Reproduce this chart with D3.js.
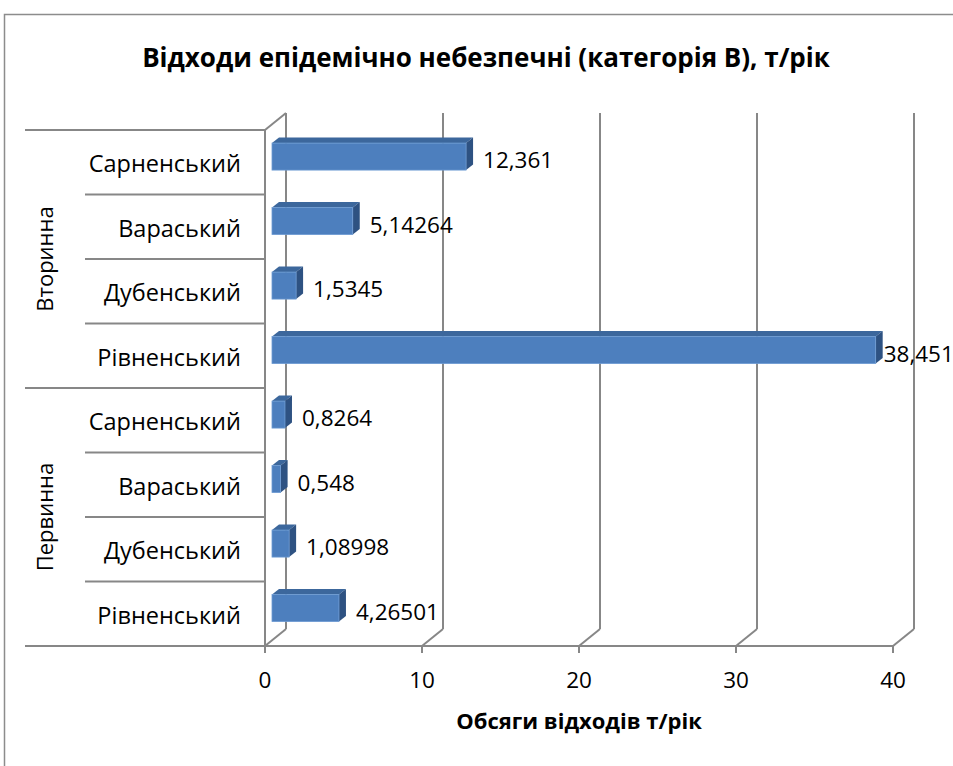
<!DOCTYPE html>
<html>
<head>
<meta charset="utf-8">
<script src="https://cdnjs.cloudflare.com/ajax/libs/d3/7.8.5/d3.min.js"></script>
<style>
    body { margin: 0; background: #ffffff; overflow: hidden; }
    svg { display: block; font-family: "Open Sans", sans-serif; }
</style>
</head>
<body>
<div id="chartcontainer"></div>
<script>
// districts listed bottom to top inside each group
var districts = ["Рівненський", "Дубенський", "Вараський", "Сарненський"];
var groups = ["Первинна", "Вторинна"];
var primaryValues = [4.26501, 1.08998, 0.548, 0.8264];
var secondaryValues = [38.451, 1.5345, 5.14264, 12.361];
var xTicks = [0, 10, 20, 30, 40];

var chartTitle = "Відходи епідемічно небезпечні (категорія В), т/рік";
var axisTitle = "Обсяги відходів т/рік";

var width = 953, height = 766;
var plotLeft = 265, plotRight = 893, plotTop = 130, plotBottom = 646;
// depth of the 3d box
var depthX = 21, depthY = -17;
var gridColor = "#878787";
var labelSize = "22.5px";

// rows from the bottom up
var rows = [];
groups.forEach(function(g, gi) {
    var vals = gi === 0 ? primaryValues : secondaryValues;
    districts.forEach(function(d, i) {
        rows.push({ id: g + "-" + d, group: g, district: d, value: vals[i], first: i === 0 });
    });
});

var svg = d3.select("#chartcontainer").append("svg")
    .attr("width", width)
    .attr("height", height);

var x = d3.scaleLinear()
    .domain([0, 40])
    .range([plotLeft, plotRight]);

var y = d3.scaleBand()
    .domain(rows.map(function(d) { return d.id; }))
    .range([plotBottom, plotTop]);

// chart border (runs off the right and bottom edges)
svg.append("path")
    .attr("d", "M4.5," + height + "V14.5H" + width)
    .style("fill", "none")
    .style("stroke", "#8c8c8c")
    .style("stroke-width", 1.5);

svg.append("text")
    .attr("x", 486)
    .attr("y", 67)
    .attr("text-anchor", "middle")
    .style("font-size", "26px")
    .style("font-weight", "bold")
    .text(chartTitle);

// back wall gridlines + floor diagonals + ticks
var grid = svg.append("g");
xTicks.forEach(function(t) {
    grid.append("line")
        .attr("x1", x(t) + depthX).attr("x2", x(t) + depthX)
        .attr("y1", plotTop + depthY).attr("y2", plotBottom + depthY);
    grid.append("line")
        .attr("x1", x(t)).attr("x2", x(t) + depthX)
        .attr("y1", plotBottom).attr("y2", plotBottom + depthY);
    grid.append("line")
        .attr("x1", x(t)).attr("x2", x(t))
        .attr("y1", plotBottom).attr("y2", plotBottom + 7);
});

// left wall front edge and top diagonal
grid.append("line")
    .attr("x1", plotLeft).attr("x2", plotLeft)
    .attr("y1", plotTop).attr("y2", plotBottom);
grid.append("line")
    .attr("x1", plotLeft).attr("x2", plotLeft + depthX)
    .attr("y1", plotTop).attr("y2", plotTop + depthY);
// floor front edge
grid.append("line")
    .attr("x1", 25).attr("x2", plotRight)
    .attr("y1", plotBottom).attr("y2", plotBottom);

// category separators, long ones between groups
rows.forEach(function(d) {
    grid.append("line")
        .attr("x1", d.first ? 25 : 85).attr("x2", plotLeft)
        .attr("y1", y(d.id) + y.bandwidth()).attr("y2", y(d.id) + y.bandwidth());
});
grid.append("line")
    .attr("x1", 25).attr("x2", plotLeft)
    .attr("y1", plotTop).attr("y2", plotTop);

grid.selectAll("line")
    .style("stroke", gridColor)
    .style("stroke-width", 2);

// category labels
svg.selectAll("text.cat")
    .data(rows)
    .enter().append("text")
    .attr("class", "cat")
    .attr("x", 241)
    .attr("y", function(d) { return y(d.id) + y.bandwidth() / 2 + 10; })
    .attr("text-anchor", "end")
    .style("font-size", "23.5px")
    .text(function(d) { return d.district; });

// group labels
groups.forEach(function(g, gi) {
    var ids = rows.filter(function(d) { return d.group === g; });
    var top = y(ids[ids.length - 1].id), bottom = y(ids[0].id) + y.bandwidth();
    svg.append("text")
        .attr("transform", "translate(53," + ((top + bottom) / 2) + ") rotate(-90)")
        .attr("text-anchor", "middle")
        .style("font-size", "22px")
        .text(g);
});

// 3d bars
var f0 = 1 / 3, f1 = 2 / 3, barH = 27;
var bars = svg.selectAll("g.bar")
    .data(rows)
    .enter().append("g")
    .attr("class", "bar");

function pts(list) {
    return list.map(function(p) { return p.join(","); }).join(" ");
}

bars.each(function(d) {
    var g = d3.select(this);
    var cy = y(d.id) + y.bandwidth() / 2;
    var ax = depthX * f0, ay = depthY * f0, bx = depthX * f1, by = depthY * f1;
    var x0 = x(0), x1 = x(d.value);
    var top = cy - barH / 2, bot = cy + barH / 2;
    // top face
    g.append("polygon")
        .attr("points", pts([[x0 + ax, top + ay], [x1 + ax, top + ay], [x1 + bx, top + by], [x0 + bx, top + by]]))
        .style("fill", "#3c679c");
    // side face
    g.append("polygon")
        .attr("points", pts([[x1 + ax, top + ay], [x1 + bx, top + by], [x1 + bx, bot + by], [x1 + ax, bot + ay]]))
        .style("fill", "#2e5282");
    // front face
    g.append("rect")
        .attr("x", x0 + ax)
        .attr("y", top + ay)
        .attr("width", x1 - x0)
        .attr("height", barH)
        .style("fill", "#4d7fbe")
        .style("stroke", "#6d9bd3")
        .style("stroke-width", 0.8);
});

// value labels
svg.selectAll("text.val")
    .data(rows)
    .enter().append("text")
    .attr("class", "val")
    .attr("y", function(d) { return y(d.id) + y.bandwidth() / 2 + 6; })
    .style("font-size", labelSize)
    .text(function(d) { return String(d.value).replace(".", ","); })
    .attr("x", function(d) {
        var side = x(d.value) + depthX * f1;
        var w = this.getComputedTextLength();
        return side + 10 + w > width + 5 ? side + 1 : side + 10;
    });

// x tick labels
svg.selectAll("text.tick")
    .data(xTicks)
    .enter().append("text")
    .attr("class", "tick")
    .attr("x", function(d) { return x(d); })
    .attr("y", 688)
    .attr("text-anchor", "middle")
    .style("font-size", labelSize)
    .text(function(d) { return d; });

svg.append("text")
    .attr("x", 579)
    .attr("y", 729)
    .attr("text-anchor", "middle")
    .style("font-size", "22px")
    .style("font-weight", "bold")
    .text(axisTitle);
</script>
</body>
</html>
